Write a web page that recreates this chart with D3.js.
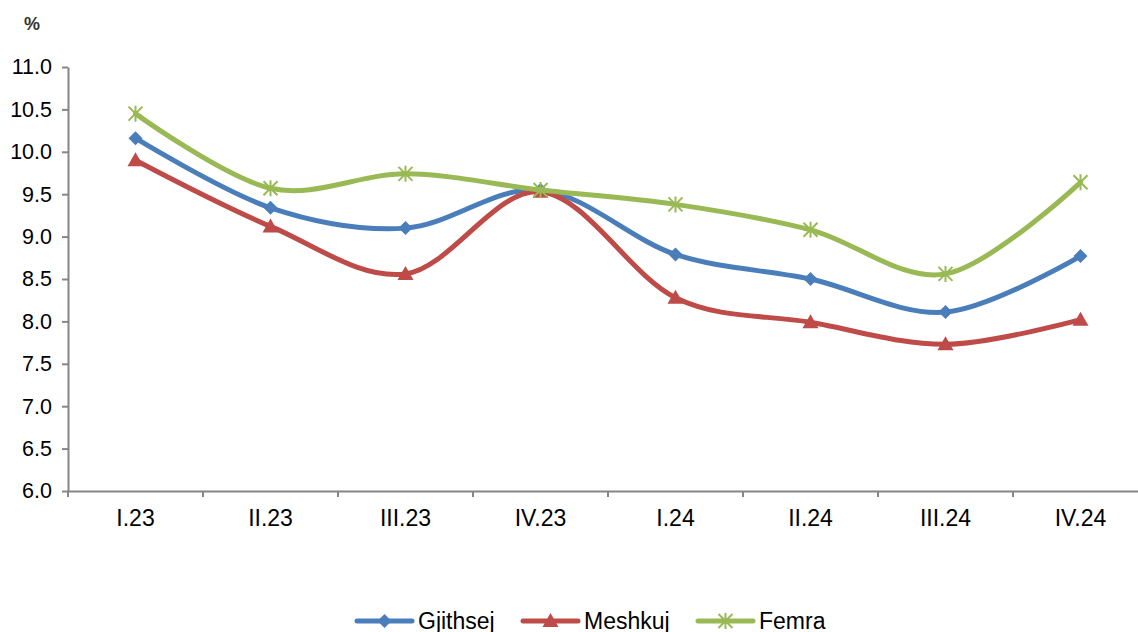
<!DOCTYPE html>
<html><head><meta charset="utf-8">
<script src="https://cdn.jsdelivr.net/npm/d3@7/dist/d3.min.js"></script>
<style>body{margin:0;background:#fff;}svg{display:block;font-family:"Liberation Sans",Arial,sans-serif;}</style>
</head><body>
<svg id="c" width="1138" height="632"></svg>
<script>
const categories = ["I.23","II.23","III.23","IV.23","I.24","II.24","III.24","IV.24"];
const gjithsej = [10.16, 9.34, 9.10, 9.55, 8.79, 8.50, 8.11, 8.77];
const meshkuj  = [9.90, 9.12, 8.56, 9.53, 8.28, 7.99, 7.73, 8.02];
const femra    = [10.45, 9.57, 9.74, 9.55, 9.38, 9.08, 8.56, 9.64];
const yTicks = [6.0, 6.5, 7.0, 7.5, 8.0, 8.5, 9.0, 9.5, 10.0, 10.5, 11.0];
const seriesNames = ["Gjithsej","Meshkuj","Femra"];
const colors = ["#4A7EBB","#BE4B48","#98B954"];

(function(){
const svg = d3.select("#c");
const mLeft = 68, mTop = 67, mBottom = 491, band = 135;
const x = d3.scaleBand().domain(categories).range([mLeft, mLeft + band*categories.length]);
const y = d3.scaleLinear().domain([6,11]).range([mBottom, mTop]);
const axisColor = "#868686";

// y axis
const ya = svg.append("g").attr("transform",`translate(${mLeft},0)`)
  .call(d3.axisLeft(y).tickValues(yTicks).tickFormat(d3.format(".1f")).tickSize(6).tickSizeOuter(0));
ya.select(".domain").attr("stroke",axisColor).attr("stroke-width",2);
ya.selectAll(".tick line").attr("stroke",axisColor).attr("stroke-width",2);
ya.selectAll(".tick text").attr("font-size",21.5).attr("fill","#000").attr("font-family","Liberation Sans, Arial, sans-serif").attr("dx",-7);

// x axis
const xa = svg.append("g").attr("transform",`translate(0,${mBottom})`)
  .call(d3.axisBottom(x).tickSize(0).tickSizeOuter(0));
xa.select(".domain").attr("stroke",axisColor).attr("stroke-width",2);
xa.selectAll(".tick text").attr("font-size",23).attr("fill","#000").attr("font-family","Liberation Sans, Arial, sans-serif").attr("dy","1.4em");
// boundary ticks
svg.append("g").selectAll("line").data(d3.range(categories.length+1)).join("line")
  .attr("x1",i=>mLeft+i*band).attr("x2",i=>mLeft+i*band)
  .attr("y1",mBottom).attr("y2",mBottom+6).attr("stroke",axisColor).attr("stroke-width",2);

svg.append("text").attr("x",24).attr("y",30).attr("font-size",18).attr("font-weight","bold").attr("fill","#333").text("%");

const cx = d => x(d) + x.bandwidth()/2;
const data = [gjithsej, meshkuj, femra];
const line = d3.line().x((d,i)=>cx(categories[i])).y(d=>y(d)).curve(d3.curveCardinal.tension(0));

function marker(g, type, px, py, color){
  if(type===0){
    g.append("path").attr("d",`M${px},${py-7}L${px+7},${py}L${px},${py+7}L${px-7},${py}Z`).attr("fill",color);
  } else if(type===1){
    g.append("path").attr("d",`M${px},${py-8}L${px+8},${py+6}L${px-8},${py+6}Z`).attr("fill",color);
  } else {
    const r=7;
    g.append("path").attr("d",`M${px-r},${py-r}L${px+r},${py+r}M${px-r},${py+r}L${px+r},${py-r}M${px},${py-r-1}L${px},${py+r+1}`)
      .attr("stroke",color).attr("stroke-width",2).attr("fill","none");
  }
}

data.forEach((vals,si)=>{
  const g = svg.append("g");
  g.append("path").datum(vals).attr("d",line).attr("fill","none").attr("stroke",colors[si]).attr("stroke-width",5).attr("stroke-linecap","round");
  vals.forEach((v,i)=>marker(g, si, cx(categories[i]), y(v), colors[si]));
});

// legend
const legX = [357, 523, 698];
const legY = 621;
seriesNames.forEach((n,i)=>{
  const g = svg.append("g");
  g.append("line").attr("x1",legX[i]).attr("x2",legX[i]+55).attr("y1",legY).attr("y2",legY)
    .attr("stroke",colors[i]).attr("stroke-width",5).attr("stroke-linecap","round");
  marker(g, i, legX[i]+27.5, legY, colors[i]);
  g.append("text").attr("x",legX[i]+61).attr("y",legY+8).attr("font-size",23).attr("fill","#000").text(n);
});
})();
</script>
</body></html>
